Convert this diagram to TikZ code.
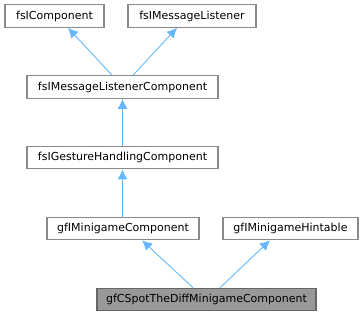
\documentclass[tikz,border=0pt]{standalone}
\usepackage{fontspec}
\setmainfont{DejaVu Sans}
\usetikzlibrary{arrows.meta,positioning,calc}
\definecolor{Edge}{HTML}{63B8FF}
\definecolor{Frame}{HTML}{8A8A8A}
\definecolor{DarkFrame}{HTML}{666666}
\definecolor{Current}{HTML}{999999}
\tikzset{
 cls/.style={draw=Frame, fill=white, line width=1.1pt, minimum height=22.5pt, inner xsep=0pt, align=center, font=\fontsize{11}{13}\selectfont},
 curcls/.style={cls, draw=DarkFrame, fill=Current},
 inherit/.style={{Latex[length=10pt,width=10pt]}-, draw=Edge, line width=0.9pt}
}
\begin{document}
\begin{tikzpicture}[x=1pt,y=-1pt]
\useasboundingbox (0,0) rectangle (363,316);
% class boxes
\node[cls, minimum width=99pt] (comp) at (54.5,16) {fsIComponent};
\node[cls, minimum width=128pt] (listener) at (192,16) {fsIMessageListener};
\node[cls, minimum width=191pt] (mlc) at (122.5,87) {fsIMessageListenerComponent};
\node[cls, minimum width=191pt] (ghc) at (122.5,157.5) {fsIGestureHandlingComponent};
\node[cls, minimum width=152pt] (mgc) at (123,228.5) {gfIMinigameComponent};
\node[cls, minimum width=135pt] (hint) at (290.5,228.5) {gfIMinigameHintable};
\node[curcls, minimum width=219pt] (spot) at (206.5,299.5) {gfCSpotTheDiffMinigameComponent};
% inheritance
\draw[inherit] ($(comp.south)+(13.5,0)$) -- ($(mlc.north)+(-10.5,0)$);
\draw[inherit] ($(listener.south)+(-15,0)$) -- ($(mlc.north)+(10.5,0)$);
\draw[inherit] (mlc.south) -- (ghc.north);
\draw[inherit] (ghc.south) -- (ghc.south |- mgc.north);
\draw[inherit] ($(mgc.south)+(19,0)$) -- ($(spot.north)+(-13.5,0)$);
\draw[inherit] ($(hint.south)+(-20.5,0)$) -- ($(spot.north)+(13.5,0)$);
\end{tikzpicture}
\end{document}
